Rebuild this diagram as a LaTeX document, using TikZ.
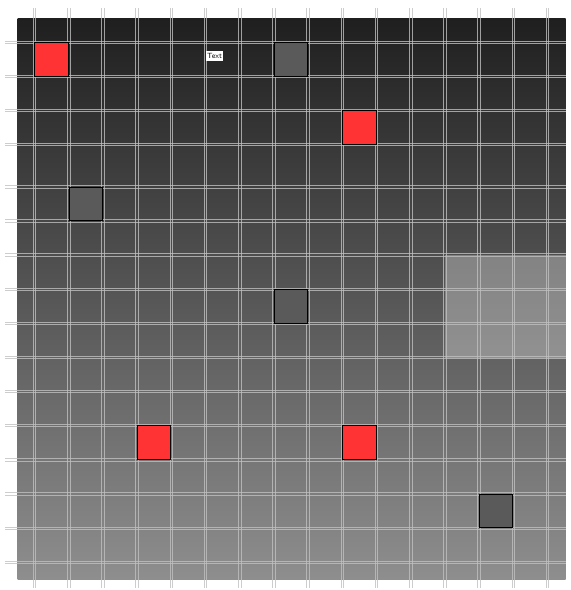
\documentclass[tikz,border=0pt]{standalone}
\usepackage{tikz}
\definecolor{cellred}{HTML}{FF3333}
\definecolor{cellgray}{HTML}{5A5A5A}
\definecolor{topshade}{HTML}{1F1F1F}
\definecolor{bottomshade}{HTML}{8E8E8E}
\definecolor{linegray}{HTML}{C0C0C0}
\tikzset{cell/.style = {shape = rectangle, draw = black, line width = 1pt, minimum size = 33.5pt, inner sep = 0pt}}
\tikzset{redcell/.style = {cell, fill = cellred}}
\tikzset{graycell/.style = {cell, fill = cellgray}}
\tikzset{gridline/.style = {draw = linegray, line width = 0.8pt, opacity = 0.8}}
\tikzset{tag/.style = {fill = white, inner xsep = 1.5pt, inner ysep = 2pt, font = \fontsize{7.5}{7.5}\selectfont\sffamily}}

\begin{document}
\begin{tikzpicture}[x = 1pt, y = -1pt]
			\useasboundingbox (0, 0) rectangle (571, 590);

			% board
			\shade[top color = topshade, bottom color = bottomshade] (17.5, 18.5) rectangle (565.5, 579);
			\fill[white, opacity = 0.3] (445, 255) rectangle (565.5, 357.5);

			% grid
			\foreach \x in {34.5, 68.7, 102.9, 137.1, 171.3, 205.5, 239.7, 273.9, 308.1, 342.3, 376.5, 410.7, 444.9, 479.1, 513.3, 547.5} {
				\draw[gridline] (\x - 1.3, 8) -- (\x - 1.3, 588);
				\draw[gridline] (\x + 1.3, 8) -- (\x + 1.3, 588);
			}
			\foreach \y in {42.5, 76.5, 110.5, 144.5, 187, 221, 255, 289.5, 323.5, 357.5, 391.5, 425.5, 460, 494, 528.5, 562.5} {
				\draw[gridline] (5, \y - 1.3) -- (566, \y - 1.3);
				\draw[gridline] (5, \y + 1.3) -- (566, \y + 1.3);
			}

			\node[redcell] (r1) at (51.6, 59.5) {};
			\node[redcell] (r2) at (359.4, 127.5) {};
			\node[redcell] (r3) at (154.2, 442.7) {};
			\node[redcell] (r4) at (359.4, 442.7) {};
			\node[graycell] (g1) at (291, 59.5) {};
			\node[graycell] (g2) at (85.8, 204) {};
			\node[graycell] (g3) at (291, 306.5) {};
			\node[graycell] (g4) at (496.2, 511.2) {};

			\node[tag] (txt) at (214.5, 56) {Text};
		\end{tikzpicture}
\end{document}
